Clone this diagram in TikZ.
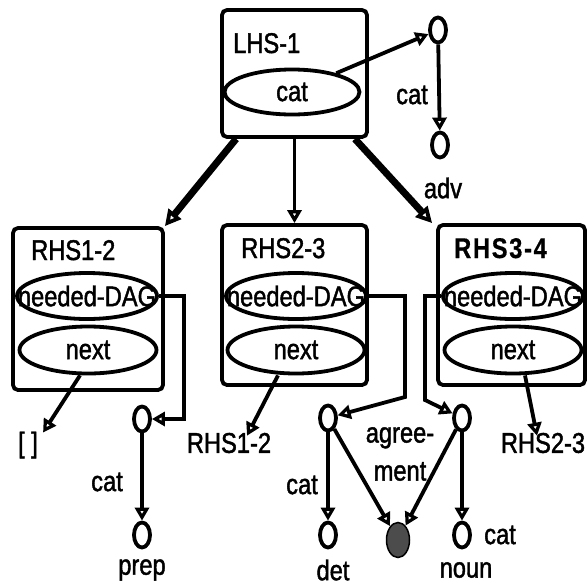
\documentclass[tikz,border=0pt]{standalone}
\usepackage{fontspec}
\setmainfont{Liberation Sans}[FakeStretch=0.83, FakeBold=1.5, BoldFeatures={FakeBold=0.5, LetterSpace=6}]
\usetikzlibrary{arrows.meta,shapes.geometric,calc}
\begin{document}
\begin{tikzpicture}[x=1pt,y=-1pt,
  every node/.style={font=\fontsize{28.5}{38}\selectfont},
  box/.style={draw, rounded corners=5pt, line width=3.8pt, inner sep=0pt},
  oval/.style={draw, ellipse, line width=3.8pt, inner sep=0pt},
  ndag/.style={oval, minimum width=140pt, minimum height=46pt},
  nxt/.style={oval, minimum width=137pt, minimum height=47pt},
  dot/.style={draw, ellipse, line width=3.8pt, minimum width=16pt, minimum height=25pt, inner sep=0pt},
  lab/.style={inner sep=1pt},
  tip/.style={-{Triangle[open, length=13pt, width=14pt, line width=3.5pt]}},
  arr/.style={line width=3.8pt, tip},
  thickarr/.style={line width=7pt, -{Triangle[open, length=16pt, width=16pt, line width=3.8pt]}},
  wire/.style={line width=3.8pt},
]
\useasboundingbox[fill=white] (0,0) rectangle (587,587);

% LHS box
\node[box, minimum width=145pt, minimum height=127pt] (LHS) at (294.5,73.5) {};
\node[lab, anchor=base west] (LHSlab) at (232,53) {LHS-1};
\node[oval, minimum width=135pt, minimum height=45pt] (lcat) at (292,92) {\makebox[0pt]{cat}};

% top right dag
\node[dot] (c1) at (438,30) {};
\node[dot] (c2) at (440,145) {};
\node[lab] (catA) at (412,95) {cat};
\node[lab] (adv) at (443,188) {adv};

% RHS boxes
\node[box, minimum width=150pt, minimum height=162pt] (R1) at (88,309) {};
\node[lab, anchor=base west] (R1lab) at (30,260) {RHS1-2};
\node[ndag] (R1nd) at (87,296) {\makebox[0pt]{needed-DAG}};
\node[nxt] (R1nx) at (88,350) {\makebox[0pt]{next}};

\node[box, minimum width=145pt, minimum height=160pt] (R2) at (294.5,305) {};
\node[lab, anchor=base west] (R2lab) at (240,258) {RHS2-3};
\node[ndag] (R2nd) at (296,296) {\makebox[0pt]{needed-DAG}};
\node[nxt] (R2nx) at (296,350) {\makebox[0pt]{next}};

\node[box, minimum width=147pt, minimum height=160pt] (R3) at (511.5,305) {};
\node[lab, anchor=base west] (R3lab) at (453,258) {\bfseries RHS3-4};
\node[ndag] (R3nd) at (513,296) {\makebox[0pt]{needed-DAG}};
\node[nxt] (R3nx) at (513,350) {\makebox[0pt]{next}};

% bottom labels
\node[lab] (empty) at (28,445) {[ ]};
\node[lab] (lab12) at (229,443) {RHS1-2};
\node[lab] (lab23) at (543,443) {RHS2-3};

% prep dag
\node[dot] (p1) at (142,419) {};
\node[dot] (p2) at (142,535) {};
\node[lab] (catP) at (107,482) {cat};
\node[lab] (prep) at (142,570) {prep};

% det / noun dag
\node[dot] (d1) at (328,418) {};
\node[dot] (d2) at (328,535) {};
\node[dot] (n1) at (462,418) {};
\node[dot] (n2) at (462,535) {};
\node[draw, ellipse, line width=1.5pt, fill=black!70, minimum width=23pt, minimum height=35pt, inner sep=0pt] (f) at (398,540) {};
\node[lab] (catD) at (302,485) {cat};
\node[lab] (det) at (333,570) {det};
\node[lab] (catN) at (500,535) {cat};
\node[lab] (noun) at (466,570) {noun};
\node[lab, align=center] (agr) at (400,454) {agree-\\ment};

\coordinate (k1) at (405,397);
\coordinate (k2) at (425,400);

% connectors
\draw[arr] (lcat) -- (c1);
\draw[arr] (c1) -- (c2);
\draw[thickarr] ([xshift=16pt]LHS.south west) -- (R1.north east);
\draw[arr] (LHS.south) -- (R2.north);
\draw[thickarr] ([xshift=-14pt]LHS.south east) -- ([xshift=-4pt]R3.north west);

\draw[wire, tip] (R1nd.east) -- ++(25,0) |- (p1.east);
\draw[wire, tip] (R2nd.east) -| (k1) -- (d1);
\draw[wire, tip] (R3nd.west) -| (k2) -- (n1);

\draw[arr] ([xshift=-8pt]R1nx.south) -- ([xshift=4pt,yshift=-2pt]empty.north east);
\draw[arr] ([xshift=-18pt]R2nx.south) -- ([xshift=18pt,yshift=-4pt]lab12.north);
\draw[arr] ([xshift=12pt]R3nx.south) -- ([xshift=-6pt,yshift=-4pt]lab23.north);

\draw[arr] (p1) -- (p2);
\draw[arr] (d1) -- (d2);
\draw[arr] (n1) -- (n2);
\draw[arr] (d1) -- (f);
\draw[arr] (n1) -- (f);
\end{tikzpicture}
\end{document}
